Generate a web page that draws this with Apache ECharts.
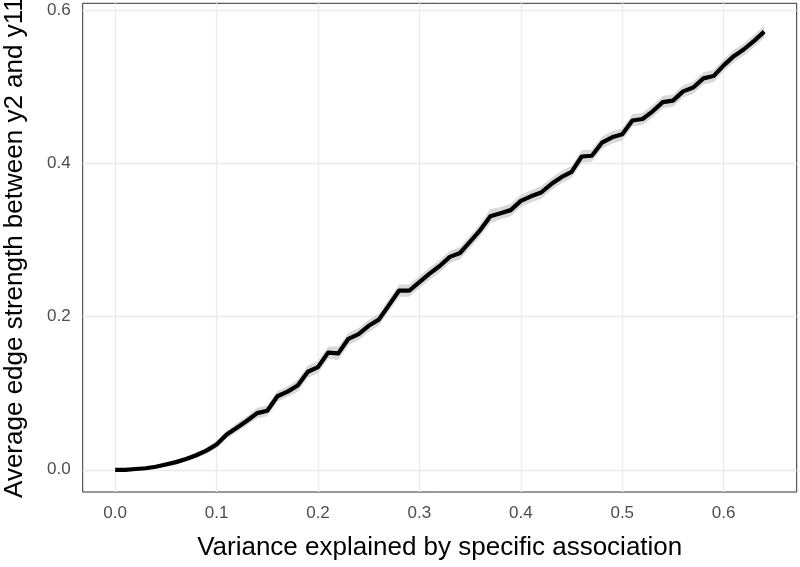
<!DOCTYPE html>
<html><head><meta charset="utf-8">
<script src="https://cdn.jsdelivr.net/npm/echarts@6/dist/echarts.min.js"></script>
<style>html,body{margin:0;padding:0;background:#fff}#c{width:800px;height:567px}</style>
</head><body><div id="c"></div>
<script>
const varianceExplained = [0.00,0.01,0.02,0.03,0.04,0.05,0.06,0.07,0.08,0.09,
  0.10,0.11,0.12,0.13,0.14,0.15,0.16,0.17,0.18,0.19,
  0.20,0.21,0.22,0.23,0.24,0.25,0.26,0.27,0.28,0.29,
  0.30,0.31,0.32,0.33,0.34,0.35,0.36,0.37,0.38,0.39,
  0.40,0.41,0.42,0.43,0.44,0.45,0.46,0.47,0.48,0.49,
  0.50,0.51,0.52,0.53,0.54,0.55,0.56,0.57,0.58,0.59,
  0.60,0.61,0.62,0.63,0.64];
const edgeStrength = [0.000,0.000,0.001,0.002,0.004,0.007,0.010,0.014,0.019,0.025,
  0.033,0.046,0.055,0.064,0.074,0.077,0.096,0.102,0.110,0.128,
  0.134,0.153,0.152,0.171,0.177,0.188,0.196,0.215,0.234,0.234,
  0.245,0.256,0.266,0.278,0.283,0.298,0.313,0.331,0.335,0.339,
  0.351,0.357,0.362,0.373,0.382,0.389,0.409,0.410,0.427,0.434,
  0.438,0.456,0.458,0.468,0.480,0.482,0.494,0.499,0.511,0.514,
  0.528,0.540,0.549,0.560,0.572];
const bandHalfWidth = [0.001,0.001,0.001,0.002,0.002,0.003,0.003,0.003,0.004,0.004,
  0.005,0.005,0.006,0.006,0.007,0.007,0.007,0.007,0.008,0.008,
  0.008,0.008,0.009,0.008,0.008,0.008,0.008,0.008,0.008,0.008,
  0.008,0.008,0.008,0.008,0.008,0.008,0.008,0.009,0.008,0.008,
  0.008,0.008,0.008,0.008,0.008,0.008,0.008,0.008,0.008,0.008,
  0.008,0.008,0.008,0.008,0.008,0.008,0.008,0.008,0.008,0.008,
  0.008,0.008,0.008,0.008,0.008];
const xTicks = [0.0,0.1,0.2,0.3,0.4,0.5,0.6];
const yTicks = [0.0,0.2,0.4,0.6];
const xTitle = 'Variance explained by specific association';
const yTitle = 'Average edge strength between y2 and y11';

const bandData = varianceExplained.map((x,i)=>[x, edgeStrength[i]-bandHalfWidth[i], edgeStrength[i]+bandHalfWidth[i]]);
const mainLine = varianceExplained.map((x,i)=>[x, edgeStrength[i]]);

const font = "'Liberation Sans', Arial, Helvetica, sans-serif";
const chart = echarts.init(document.getElementById('c'), null, {renderer:'canvas'});
const gridLine = {color:'#EBEBEB', width:1.4, type:'solid'};
chart.setOption({
  animation:false,
  backgroundColor:'#ffffff',
  grid:{left:82.7, right:3.3, top:3.3, bottom:75, show:true, borderColor:'#333333', borderWidth:1, backgroundColor:'#ffffff', containLabel:false, outerBoundsMode:'none'},
  xAxis:{type:'value', min:-0.032, max:0.672,
    name:xTitle, nameLocation:'middle', nameGap:43,
    nameTextStyle:{fontFamily:font, fontSize:26, color:'#000'},
    axisLine:{show:false}, splitLine:{show:false},
    axisTick:{show:true, customValues:xTicks, length:4, lineStyle:{color:'#333333', width:1}},
    axisLabel:{customValues:xTicks, margin:13, fontFamily:font, fontSize:17, color:'#4D4D4D', formatter:v=>v.toFixed(1)}
  },
  yAxis:{type:'value', min:-0.029, max:0.609,
    name:yTitle, nameLocation:'middle', nameGap:55,
    nameTextStyle:{fontFamily:font, fontSize:26, color:'#000'},
    axisLine:{show:false}, splitLine:{show:false},
    axisTick:{show:true, customValues:yTicks, length:4, lineStyle:{color:'#333333', width:1}},
    axisLabel:{customValues:yTicks, margin:12, fontFamily:font, fontSize:17, color:'#4D4D4D', formatter:v=>v.toFixed(1)}
  },
  series:[
    {type:'custom', data:bandData, z:2, silent:true, clip:true,
     encode:{x:0, y:[1,2]},
     renderItem:function(params, api){
       if (params.dataIndex !== 0) return null;
       const pts = [];
       for (let i=0;i<bandData.length;i++) pts.push(api.coord([bandData[i][0], bandData[i][2]]));
       for (let i=bandData.length-1;i>=0;i--) pts.push(api.coord([bandData[i][0], bandData[i][1]]));
       return {type:'polygon', shape:{points:pts}, style:{fill:'#D9D9D9', stroke:'none'}};
     },
     markLine:{silent:true, symbol:'none', label:{show:false}, lineStyle:gridLine, animation:false, z:1,
       data:[...xTicks.map(v=>({xAxis:v})), ...yTicks.map(v=>({yAxis:v}))]}},
    {type:'line', data:mainLine, symbol:'none', z:3, silent:true,
     lineStyle:{color:'#000000', width:4.2, join:'round', cap:'butt'}}
  ]
});
</script></body></html>
